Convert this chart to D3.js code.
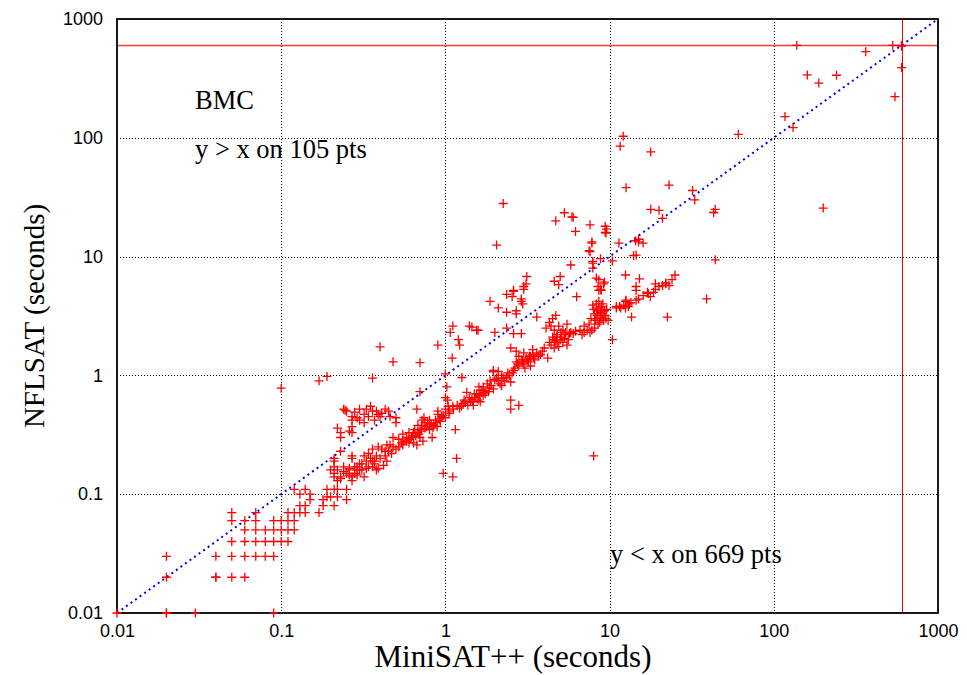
<!DOCTYPE html>
<html>
<head>
<meta charset="utf-8">
<script src="https://cdn.jsdelivr.net/npm/d3@7"></script>
<style>
  body { margin: 0; background: #fff; }
  svg { display: block; }
</style>
</head>
<body>
<script>
// [MiniSAT++ seconds, NFLSAT seconds]
const tinyRuns = [
  [0.01, 0.01], [0.02, 0.01], [0.02, 0.01], [0.03, 0.01], [0.09, 0.01],
  [0.02, 0.02], [0.02, 0.03], [0.04, 0.02], [0.04, 0.02], [0.05, 0.02], [0.06, 0.02],
  [0.04, 0.03], [0.05, 0.03], [0.06, 0.03], [0.07, 0.03], [0.08, 0.03], [0.09, 0.03],
  [0.05, 0.04], [0.06, 0.04], [0.07, 0.04], [0.08, 0.04], [0.09, 0.04], [0.1, 0.04], [0.11, 0.04],
  [0.06, 0.05], [0.07, 0.05], [0.08, 0.05], [0.09, 0.05], [0.1, 0.05], [0.11, 0.05], [0.12, 0.05],
  [0.05, 0.06], [0.06, 0.06], [0.07, 0.06], [0.09, 0.06], [0.1, 0.06], [0.11, 0.06], [0.12, 0.06],
  [0.05, 0.07], [0.07, 0.07], [0.11, 0.07], [0.12, 0.07], [0.13, 0.07], [0.14, 0.07],
  [0.13, 0.08], [0.14, 0.08], [0.15, 0.09], [0.15, 0.1], [0.12, 0.11], [0.13, 0.1], [0.14, 0.11]
];

const smallRuns = [
  [0.17, 0.07], [0.18, 0.08], [0.18, 0.09], [0.19, 0.11], [0.21, 0.11], [0.22, 0.11],
  [0.19, 0.095], [0.2, 0.095], [0.22, 0.095], [0.21, 0.08], [0.21, 0.19], [0.23, 0.135],
  [0.22, 0.13], [0.25, 0.11], [0.25, 0.09], [0.26, 0.145], [0.29, 0.145], [0.27, 0.13],
  [0.27, 0.2], [0.27, 0.21], [0.27, 0.42], [0.27, 0.45], [0.29, 0.44], [0.22, 0.36],
  [0.23, 0.33], [0.23, 0.3], [0.27, 0.33], [0.29, 0.17], [0.29, 0.16],
  [0.35, 0.55], [0.38, 0.5], [0.41, 0.48], [0.45, 0.5], [0.4, 0.45], [0.5, 0.44], [0.5, 0.4],
  [0.3, 0.42], [0.27, 0.37], [0.26, 0.34], [0.21, 0.2], [0.21, 0.17], [0.23, 0.23],
  [0.24, 0.52], [0.25, 0.5], [0.28, 0.49], [0.3, 0.52], [0.32, 0.47],
  [0.32, 0.4], [0.34, 0.45], [0.37, 0.42], [0.39, 0.47], [0.43, 0.52], [0.46, 0.45],
  [0.33, 0.52], [0.36, 0.5],
  [0.21, 0.14], [0.25, 0.15], [0.27, 0.14], [0.3, 0.16], [0.33, 0.165], [0.36, 0.17],
  [0.39, 0.165], [0.42, 0.175], [0.38, 0.21], [0.41, 0.24], [0.44, 0.26], [0.47, 0.22],
  [0.21, 0.15], [0.23, 0.14], [0.24, 0.155], [0.28, 0.15], [0.31, 0.16], [0.34, 0.17],
  [0.37, 0.18], [0.4, 0.2], [0.43, 0.21], [0.45, 0.23], [0.48, 0.25], [0.36, 0.19],
  [0.32, 0.14], [0.26, 0.16], [0.3, 0.18], [0.38, 0.16], [0.44, 0.19],
  [0.2, 0.16], [0.22, 0.16], [0.24, 0.17], [0.26, 0.165], [0.28, 0.17], [0.31, 0.18],
  [0.33, 0.19], [0.35, 0.2], [0.37, 0.19], [0.32, 0.21], [0.34, 0.22], [0.36, 0.24],
  [0.39, 0.25], [0.43, 0.23], [0.46, 0.26], [0.48, 0.3], [0.52, 0.29],
  [0.1, 0.78], [0.17, 0.9], [0.19, 0.98], [0.36, 0.95], [0.4, 1.74], [0.48, 1.3], [0.245, 0.51]
];

const midRuns = [
  [0.5, 0.24], [0.54, 0.27], [0.58, 0.28], [0.62, 0.3], [0.67, 0.26], [0.7, 0.35], [0.72, 0.38],
  [0.73, 0.28], [0.85, 0.38], [0.89, 0.37], [0.93, 0.41], [1.0, 0.44], [0.83, 0.3], [0.9, 0.5],
  [1.0, 0.52], [1.04, 0.55], [1.11, 0.55], [1.22, 0.53], [1.28, 0.58], [1.37, 0.56], [1.47, 0.6],
  [1.58, 0.62], [1.7, 0.68], [1.83, 0.73], [1.96, 0.77], [1.15, 0.35], [1.17, 0.2], [0.97, 0.15],
  [1.11, 0.14], [1.6, 0.8], [1.7, 0.75], [1.96, 1.07], [2.0, 0.92],
  [0.55, 0.26], [0.6, 0.29], [0.64, 0.33], [0.66, 0.31], [0.7, 0.3], [0.75, 0.36], [0.8, 0.35],
  [0.82, 0.39], [0.87, 0.42], [0.95, 0.45], [0.78, 0.4], [0.68, 0.38], [0.72, 0.42], [0.74, 0.44],
  [0.9, 0.47], [1.05, 0.48], [0.55, 0.32], [0.6, 0.33], [0.65, 0.35], [0.68, 0.33], [0.75, 0.4],
  [0.8, 0.42], [0.58, 0.3], [0.64, 0.27],
  [0.52, 0.25], [0.56, 0.28], [0.6, 0.27], [0.63, 0.31], [0.69, 0.32], [0.71, 0.34], [0.77, 0.37],
  [0.84, 0.36], [0.88, 0.4], [0.92, 0.43], [0.97, 0.46], [1.06, 0.5], [1.12, 0.52], [1.18, 0.56],
  [1.25, 0.55], [1.32, 0.6], [1.42, 0.6], [1.52, 0.65], [1.62, 0.7], [1.72, 0.72], [1.85, 0.78],
  [1.3, 0.62], [1.4, 0.65], [1.5, 0.7], [1.35, 0.72], [1.6, 0.67], [1.75, 0.7], [1.9, 0.82],
  [1.8, 0.85], [1.45, 0.63], [1.65, 0.75], [1.48, 0.56], [1.63, 0.6], [1.55, 0.7], [1.7, 0.8],
  [1.96, 1.1], [1.87, 0.9], [2.15, 0.85], [2.36, 0.96], [2.6, 1.1], [2.8, 1.2], [3.05, 1.15],
  [3.3, 1.45], [3.4, 1.65], [3.6, 1.55], [3.8, 1.5], [4.2, 1.4], [2.5, 0.62], [2.8, 0.56], [2.5, 0.52],
  [2.05, 0.95], [2.2, 1.0], [2.3, 0.9], [2.4, 1.05], [2.2, 0.82], [2.5, 0.88], [2.1, 1.08],
  [2.7, 1.3], [2.9, 1.35], [3.0, 1.25], [3.1, 1.4], [3.2, 1.3], [2.8, 1.45], [3.3, 1.2],
  [3.5, 1.35], [3.4, 1.5], [3.0, 1.55],
  [2.1, 0.9], [2.25, 0.95], [2.45, 1.0], [2.55, 1.05], [2.65, 1.15], [2.75, 1.25], [2.95, 1.3],
  [3.15, 1.35], [3.25, 1.45], [3.45, 1.4], [3.7, 1.45], [3.9, 1.6], [4.0, 1.7],
  [0.7, 1.28], [0.9, 1.8], [1.07, 2.3], [1.2, 2.0], [1.22, 1.8], [1.55, 2.4], [2.0, 2.3],
  [1.1, 1.4], [1.0, 1.03], [1.26, 0.96], [0.7, 0.73], [0.67, 0.52], [1.02, 0.8], [1.0, 0.65],
  [1.03, 0.62], [1.11, 2.6], [1.45, 2.55], [1.4, 2.6], [1.58, 2.4], [2.36, 2.5], [2.6, 2.25],
  [2.9, 2.25], [2.5, 1.7], [2.7, 1.6]
];

const largeRuns = [
  [4.5, 2.1], [4.8, 1.9], [5.0, 2.0], [5.2, 1.9], [5.5, 1.8], [4.6, 2.4], [4.9, 2.6], [5.5, 2.7],
  [5.7, 2.25], [6.0, 2.25], [7.0, 2.3], [7.8, 2.4], [8.1, 2.5],
  [4.4, 1.8], [4.6, 1.7], [4.8, 2.2], [5.1, 2.1], [5.3, 2.05], [4.7, 1.95], [5.4, 2.3], [5.6, 2.0],
  [4.9, 1.75], [5.2, 2.4], [4.1, 2.5], [4.3, 2.8], [4.5, 3.0], [4.4, 2.6], [4.7, 3.2],
  [4.3, 1.9], [4.6, 2.0], [4.75, 2.1], [5.05, 2.3], [5.35, 2.2], [5.8, 2.3], [6.2, 2.35], [6.6, 2.4],
  [8.3, 4.0], [8.1, 3.3], [8.8, 3.1], [9.2, 2.9], [8.5, 2.7], [8.9, 3.8], [9.3, 3.5],
  [7.7, 3.0], [8.0, 3.6], [8.4, 3.2], [8.7, 2.8], [9.0, 3.3], [9.5, 3.0], [9.8, 2.9], [7.5, 2.7],
  [8.2, 2.9], [8.6, 4.2], [9.1, 4.0], [7.9, 3.9], [7.0, 2.6], [7.3, 2.4], [7.6, 2.3], [6.8, 2.2],
  [8.1, 3.0], [8.4, 3.5], [8.8, 3.4], [9.0, 3.0], [9.4, 3.2], [8.6, 3.7], [9.6, 3.6],
  [8.5, 5.6], [8.9, 5.2], [8.3, 6.6], [9.3, 6.1], [8.6, 6.4], [8.6, 5.2], [8.8, 5.3], [9.2, 5.9],
  [10.4, 2.0], [11, 3.7], [12.5, 4.2], [12.5, 7.0], [15.2, 6.5], [14.5, 5.6], [14.5, 5.2], [25, 7],
  [19, 5.9], [21, 5.7], [22, 5.9], [23, 5.7], [17.2, 4.9], [18.5, 5.0], [17.7, 4.6], [12.6, 4.3],
  [13.2, 4.0], [12.2, 3.9], [13, 3.8], [11.7, 3.7], [14.5, 4.3], [13.6, 3.1], [22.5, 3.1], [8.0, 0.21],
  [11.5, 3.8], [13.5, 4.1], [15, 4.4], [16, 4.7], [17, 5.0], [19, 5.3], [20, 5.6], [22, 6.0], [24, 6.4],
  [11.0, 3.8], [12.5, 3.7], [6.3, 4.6], [39, 4.4], [44, 9.4]
];

const slowerRuns = [
  [3.13, 6.8], [3.0, 5.6], [2.6, 5.1], [2.36, 4.8], [1.87, 4.2], [2.1, 3.7], [2.36, 3.4], [2.7, 3.5],
  [2.9, 4.2], [2.96, 4.0], [5.0, 6.8], [4.6, 6.2], [4.9, 5.8], [3.6, 3.1], [2.7, 3.3],
  [3.1, 5.9], [3.0, 5.3], [2.6, 5.2], [2.55, 4.6], [2.9, 4.4],
  [2.25, 28], [2.05, 12.5], [5.3, 23.4], [5.9, 21.6], [4.7, 20], [6.2, 16.3], [5.8, 8.5],
  [6.0, 21.4], [7.5, 11.2], [7.8, 13.3], [9.5, 15.8],
  [7.6, 18.5], [9.4, 18], [9.4, 16], [9.6, 17], [7.8, 13], [7.6, 11], [11.4, 13], [10.4, 9.2],
  [14, 10.2], [14.5, 10.3], [8.8, 9.6], [7.9, 8.8], [7.9, 8], [7.9, 9.1],
  [15, 14], [15, 13.3], [16, 13], [14.4, 13.6], [17.8, 25], [20, 24.5], [21, 21], [32, 36], [33, 30],
  [44, 25], [43, 23.5], [12.1, 103], [11.6, 85], [60.8, 107], [17.8, 76], [12.6, 38], [23, 40],
  [138, 600], [530, 600], [600, 600], [600, 590], [600, 390], [363, 531], [547, 222], [160, 338],
  [188, 289], [241, 336], [117, 151], [131, 122], [200, 25.6]
];

const points = [...tinyRuns, ...smallRuns, ...midRuns, ...largeRuns, ...slowerRuns];

const decades = [0.01, 0.1, 1, 10, 100, 1000];
const tickLabels = ['0.01', '0.1', '1', '10', '100', '1000'];
const timeout = 600;

function main() {
  const width = 967;
  const height = 675;
  const left = 117, right = 938, top = 19, bottom = 613;

  const svg = d3.select('body').append('svg')
    .attr('width', width)
    .attr('height', height);

  const x = d3.scaleLog().domain([0.01, 1000]).range([left, right]);
  const y = d3.scaleLog().domain([0.01, 1000]).range([bottom, top]);
  const px = v => Math.round(v) + 0.5;

  // grid
  const inner = decades.slice(1, -1);
  svg.append('g')
    .selectAll('line')
    .data(inner)
    .enter()
    .append('line')
    .attr('x1', d => px(x(d)))
    .attr('x2', d => px(x(d)))
    .attr('y1', top)
    .attr('y2', bottom)
    .attr('stroke', '#000')
    .attr('stroke-dasharray', '1,2');
  svg.append('g')
    .selectAll('line')
    .data(inner)
    .enter()
    .append('line')
    .attr('y1', d => px(y(d)))
    .attr('y2', d => px(y(d)))
    .attr('x1', left)
    .attr('x2', right)
    .attr('stroke', '#000')
    .attr('stroke-dasharray', '1,2');

  // axes (labels only, frame drawn separately)
  const fmt = d => tickLabels[decades.indexOf(d)];
  const xAxis = svg.append('g')
    .attr('transform', `translate(0,${bottom})`)
    .call(d3.axisBottom(x).tickValues(decades).tickFormat(fmt).tickSize(0).tickPadding(11));
  const yAxis = svg.append('g')
    .attr('transform', `translate(${left},0)`)
    .call(d3.axisLeft(y).tickValues(decades).tickFormat(fmt).tickSize(0).tickPadding(14));
  [xAxis, yAxis].forEach(a => {
    a.select('.domain').remove();
    a.selectAll('text')
      .attr('font-family', '"Liberation Sans", Arial, sans-serif')
      .attr('font-size', 18)
      .attr('fill', '#000');
  });

  // timeout lines
  svg.append('line')
    .attr('x1', left).attr('x2', right)
    .attr('y1', px(y(timeout))).attr('y2', px(y(timeout)))
    .attr('stroke', '#ff3a3a').attr('stroke-width', 1.4);
  svg.append('line')
    .attr('x1', px(x(timeout))).attr('x2', px(x(timeout)))
    .attr('y1', top).attr('y2', bottom)
    .attr('stroke', '#ff0000').attr('stroke-width', 1);

  // y = x
  svg.append('line')
    .attr('x1', x(0.01)).attr('y1', y(0.01))
    .attr('x2', x(1000)).attr('y2', y(1000))
    .attr('stroke', '#0000ff')
    .attr('stroke-width', 2)
    .attr('stroke-dasharray', '2,3.6');

  // frame
  svg.append('rect')
    .attr('x', left).attr('y', top)
    .attr('width', right - left).attr('height', bottom - top)
    .attr('fill', 'none')
    .attr('stroke', '#000')
    .attr('stroke-width', 1.8);

  // points
  svg.append('g')
    .selectAll('path')
    .data(points)
    .enter()
    .append('path')
    .attr('d', d => `M${x(d[0]) - 4.5},${y(d[1])}h9M${x(d[0])},${y(d[1]) - 4.5}v9`)
    .attr('stroke', '#ff0000')
    .attr('stroke-width', 1.3)
    .attr('fill', 'none');

  // labels
  const serif = '"Liberation Serif", "Times New Roman", serif';
  const notes = [
    { text: 'BMC', x: 195, y: 109 },
    { text: 'y > x on 105 pts', x: 195, y: 158 },
    { text: 'y < x on 669 pts', x: 610, y: 563 }
  ];
  svg.append('g')
    .selectAll('text')
    .data(notes)
    .enter()
    .append('text')
    .attr('x', d => d.x)
    .attr('y', d => d.y)
    .attr('font-family', serif)
    .attr('font-size', 26.5)
    .text(d => d.text);

  svg.append('text')
    .attr('x', 513)
    .attr('y', 667)
    .attr('text-anchor', 'middle')
    .attr('font-family', serif)
    .attr('font-size', 31)
    .text('MiniSAT++ (seconds)');

  svg.append('text')
    .attr('transform', `translate(44,${(top + bottom) / 2}) rotate(-90)`)
    .attr('text-anchor', 'middle')
    .attr('font-family', serif)
    .attr('font-size', 29)
    .text('NFLSAT (seconds)');
}

main();
</script>
</body>
</html>
